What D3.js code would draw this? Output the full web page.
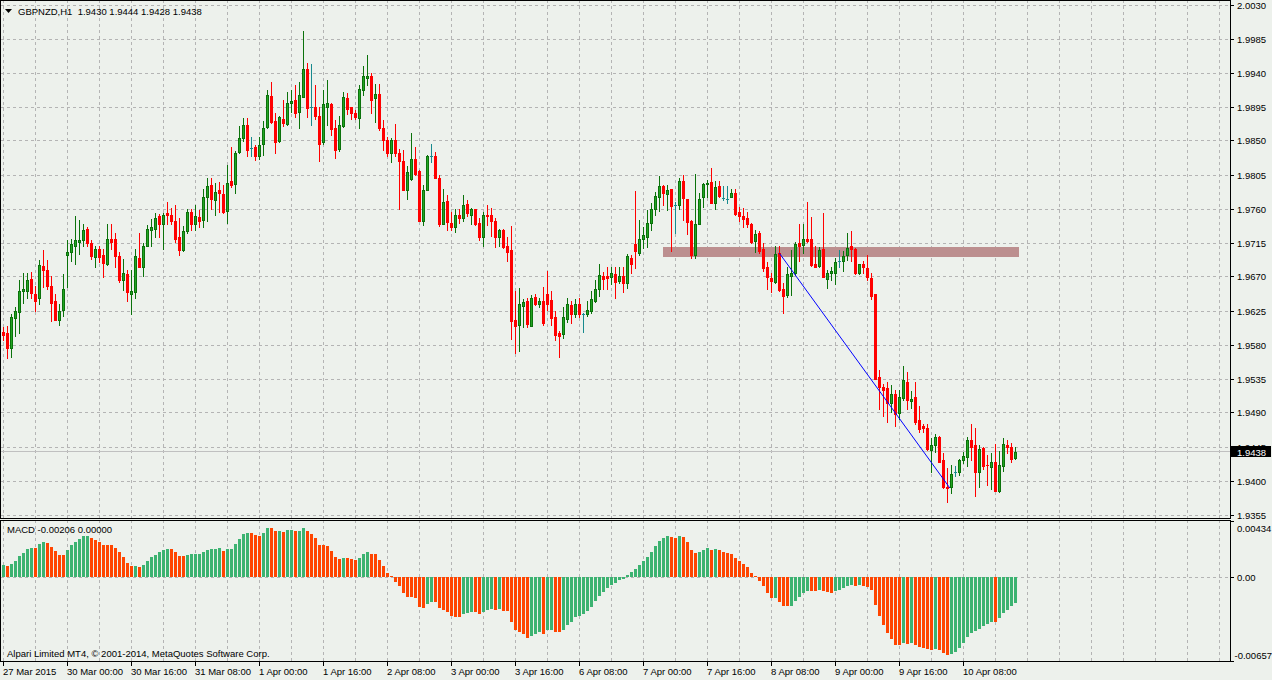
<!DOCTYPE html>
<html>
<head>
<meta charset="utf-8">
<script src="https://cdn.jsdelivr.net/npm/d3@7"></script>
<style>
  body { margin: 0; background: #edf1ec; }
  svg { display: block; font-family: "Liberation Sans", Arial, sans-serif; }
  text { white-space: pre; }
</style>
</head>
<body>
<div id="container"></div>
<script>
/* CONSTANTS AND GLOBALS */
const width = 1272, height = 680;

// GBPNZD H1 bars, 27 Mar 2015 08:00 .. 10 Apr 2015
const opens = [1.9596,1.9595,1.9575,1.9615,1.9623,1.9651,1.9651,1.9667,1.9647,1.9642,
1.9684,1.9678,1.9657,1.9637,1.9613,1.9626,1.9699,1.9703,1.9710,1.9716,
1.9718,1.9733,1.9714,1.9696,1.9707,1.9698,1.9687,1.9720,1.9719,1.9697,
1.9666,1.9673,1.9647,1.9650,1.9695,1.9682,1.9710,1.9732,1.9733,1.9750,
1.9739,1.9754,1.9752,1.9743,1.9722,1.9705,1.9730,1.9756,1.9739,1.9749,
1.9745,1.9775,1.9791,1.9771,1.9784,1.9779,1.9757,1.9797,1.9793,1.9835,
1.9853,1.9871,1.9840,1.9842,1.9830,1.9845,1.9868,1.9909,1.9876,1.9849,
1.9879,1.9872,1.9899,1.9903,1.9888,1.9908,1.9944,1.9894,1.9895,1.9882,
1.9848,1.9894,1.9898,1.9867,1.9839,1.9869,1.9906,1.9894,1.9887,1.9880,
1.9917,1.9933,1.9935,1.9906,1.9912,1.9867,1.9850,1.9834,1.9850,1.9834,
1.9823,1.9785,1.9799,1.9826,1.9809,1.9744,1.9785,1.9830,1.9829,1.9800,
1.9740,1.9770,1.9741,1.9736,1.9752,1.9748,1.9766,1.9752,1.9760,1.9741,
1.9722,1.9752,1.9752,1.9744,1.9722,1.9731,1.9711,1.9705,1.9613,1.9606,
1.9631,1.9637,1.9605,1.9643,1.9633,1.9637,1.9647,1.9639,1.9617,1.9595,
1.9594,1.9614,1.9632,1.9620,1.9633,1.9621,1.9621,1.9624,1.9638,1.9654,
1.9670,1.9670,1.9669,1.9673,1.9664,1.9670,1.9662,1.9695,1.9713,1.9701,
1.9719,1.9722,1.9741,1.9759,1.9775,1.9790,1.9779,1.9786,1.9765,1.9764,
1.9797,1.9772,1.9744,1.9698,1.9740,1.9775,1.9792,1.9795,1.9767,1.9790,
1.9774,1.9773,1.9775,1.9781,1.9755,1.9750,1.9748,1.9740,1.9717,1.9727,
1.9706,1.9682,1.9668,1.9663,1.9701,1.9654,1.9645,1.9671,1.9674,1.9714,
1.9712,1.9720,1.9719,1.9686,1.9684,1.9706,1.9667,1.9674,1.9674,1.9690,
1.9691,1.9698,1.9710,1.9707,1.9674,1.9686,1.9681,1.9668,1.9647,1.9537,
1.9524,1.9523,1.9502,1.9514,1.9489,1.9509,1.9531,1.9505,1.9510,1.9480,
1.9472,1.9469,1.9440,1.9447,1.9457,1.9427,1.9392,1.9391,1.9411,1.9411,
1.9427,1.9431,1.9453,1.9447,1.9411,1.9443,1.9421,1.9418,1.9424,1.9386,
1.9419,1.9447,1.9445,1.9430];
const highs = [1.9603,1.9604,1.9620,1.9629,1.9665,1.9674,1.9674,1.9676,1.9657,1.9692,
1.9705,1.9692,1.9670,1.9647,1.9634,1.9673,1.9718,1.9719,1.9750,1.9745,
1.9739,1.9735,1.9718,1.9711,1.9711,1.9706,1.9739,1.9739,1.9727,1.9703,
1.9693,1.9678,1.9678,1.9706,1.9728,1.9714,1.9738,1.9746,1.9754,1.9753,
1.9754,1.9769,1.9761,1.9764,1.9747,1.9737,1.9759,1.9759,1.9764,1.9758,
1.9786,1.9800,1.9801,1.9794,1.9795,1.9791,1.9817,1.9842,1.9836,1.9869,
1.9880,1.9880,1.9854,1.9844,1.9854,1.9876,1.9917,1.9928,1.9886,1.9883,
1.9903,1.9914,1.9917,1.9924,1.9928,1.9995,1.9953,1.9951,1.9924,1.9895,
1.9917,1.9930,1.9899,1.9877,1.9882,1.9914,1.9913,1.9895,1.9891,1.9923,
1.9948,1.9963,1.9940,1.9925,1.9925,1.9877,1.9855,1.9853,1.9872,1.9839,
1.9838,1.9816,1.9860,1.9842,1.9811,1.9791,1.9831,1.9846,1.9835,1.9804,
1.9786,1.9778,1.9756,1.9760,1.9759,1.9778,1.9771,1.9761,1.9760,1.9747,
1.9756,1.9764,1.9761,1.9747,1.9733,1.9733,1.9722,1.9737,1.9651,1.9655,
1.9640,1.9642,1.9645,1.9647,1.9641,1.9656,1.9677,1.9651,1.9624,1.9598,
1.9630,1.9642,1.9638,1.9640,1.9642,1.9622,1.9638,1.9651,1.9666,1.9686,
1.9676,1.9682,1.9683,1.9682,1.9683,1.9682,1.9700,1.9698,1.9783,1.9745,
1.9735,1.9758,1.9767,1.9782,1.9803,1.9791,1.9791,1.9786,1.9769,1.9800,
1.9805,1.9773,1.9745,1.9806,1.9780,1.9794,1.9798,1.9813,1.9797,1.9797,
1.9790,1.9790,1.9786,1.9786,1.9762,1.9761,1.9755,1.9741,1.9731,1.9730,
1.9714,1.9689,1.9674,1.9711,1.9710,1.9662,1.9682,1.9705,1.9716,1.9739,
1.9739,1.9768,1.9749,1.9710,1.9709,1.9754,1.9678,1.9682,1.9695,1.9705,
1.9704,1.9728,1.9730,1.9708,1.9687,1.9690,1.9698,1.9675,1.9647,1.9546,
1.9528,1.9530,1.9526,1.9520,1.9520,1.9551,1.9543,1.9518,1.9530,1.9498,
1.9475,1.9475,1.9456,1.9461,1.9459,1.9437,1.9416,1.9421,1.9419,1.9428,
1.9438,1.9458,1.9475,1.9469,1.9447,1.9445,1.9434,1.9437,1.9448,1.9439,
1.9456,1.9453,1.9449,1.9444];
const lows = [1.9586,1.9562,1.9563,1.9591,1.9595,1.9635,1.9641,1.9642,1.9624,1.9633,
1.9656,1.9654,1.9611,1.9612,1.9606,1.9618,1.9656,1.9690,1.9686,1.9700,
1.9711,1.9710,1.9693,1.9683,1.9689,1.9669,1.9685,1.9707,1.9682,1.9663,
1.9652,1.9638,1.9620,1.9642,1.9682,1.9670,1.9710,1.9710,1.9722,1.9722,
1.9706,1.9739,1.9739,1.9716,1.9698,1.9704,1.9728,1.9731,1.9731,1.9736,
1.9736,1.9744,1.9760,1.9751,1.9755,1.9754,1.9741,1.9788,1.9781,1.9833,
1.9849,1.9830,1.9830,1.9824,1.9826,1.9831,1.9867,1.9873,1.9834,1.9848,
1.9869,1.9870,1.9888,1.9881,1.9867,1.9908,1.9881,1.9870,1.9879,1.9823,
1.9845,1.9870,1.9857,1.9827,1.9836,1.9868,1.9885,1.9878,1.9878,1.9867,
1.9910,1.9923,1.9887,1.9875,1.9864,1.9838,1.9830,1.9822,1.9830,1.9759,
1.9785,1.9772,1.9798,1.9804,1.9743,1.9738,1.9785,1.9822,1.9800,1.9737,
1.9740,1.9731,1.9731,1.9729,1.9741,1.9743,1.9750,1.9739,1.9738,1.9718,
1.9710,1.9738,1.9723,1.9709,1.9710,1.9708,1.9691,1.9587,1.9569,1.9572,
1.9603,1.9603,1.9605,1.9632,1.9630,1.9606,1.9626,1.9606,1.9586,1.9563,
1.9588,1.9610,1.9609,1.9617,1.9617,1.9597,1.9618,1.9622,1.9636,1.9644,
1.9653,1.9653,1.9660,1.9642,1.9662,1.9650,1.9655,1.9674,1.9681,1.9699,
1.9708,1.9709,1.9731,1.9751,1.9757,1.9764,1.9758,1.9704,1.9728,1.9760,
1.9745,1.9726,1.9695,1.9695,1.9739,1.9762,1.9775,1.9767,1.9760,1.9775,
1.9771,1.9767,1.9775,1.9751,1.9744,1.9736,1.9736,1.9714,1.9703,1.9701,
1.9677,1.9653,1.9650,1.9662,1.9651,1.9622,1.9643,1.9645,1.9672,1.9691,
1.9701,1.9716,1.9684,1.9682,1.9683,1.9669,1.9655,1.9666,1.9660,1.9682,
1.9677,1.9692,1.9690,1.9673,1.9673,1.9674,1.9665,1.9640,1.9534,1.9494,
1.9486,1.9478,1.9490,1.9472,1.9481,1.9506,1.9495,1.9496,1.9475,1.9464,
1.9464,1.9440,1.9411,1.9438,1.9424,1.9390,1.9372,1.9383,1.9406,1.9407,
1.9423,1.9419,1.9427,1.9380,1.9391,1.9415,1.9394,1.9389,1.9386,1.9385,
1.9413,1.9437,1.9425,1.9428];
const closes = [1.9593,1.9575,1.9617,1.9625,1.9651,1.9653,1.9666,1.9648,1.9638,1.9685,
1.9678,1.9658,1.9635,1.9613,1.9625,1.9654,1.9703,1.9713,1.9718,1.9718,
1.9731,1.9714,1.9697,1.9706,1.9696,1.9688,1.9719,1.9716,1.9697,1.9666,
1.9674,1.9650,1.9651,1.9697,1.9682,1.9710,1.9733,1.9735,1.9748,1.9739,
1.9752,1.9752,1.9744,1.9719,1.9705,1.9730,1.9756,1.9739,1.9750,1.9744,
1.9775,1.9790,1.9772,1.9782,1.9781,1.9755,1.9794,1.9791,1.9834,1.9853,
1.9870,1.9838,1.9840,1.9830,1.9844,1.9867,1.9910,1.9875,1.9848,1.9881,
1.9873,1.9900,1.9902,1.9887,1.9910,1.9944,1.9893,1.9894,1.9883,1.9846,
1.9898,1.9899,1.9865,1.9838,1.9870,1.9907,1.9892,1.9886,1.9881,1.9918,
1.9936,1.9936,1.9904,1.9912,1.9867,1.9850,1.9833,1.9850,1.9834,1.9823,
1.9785,1.9808,1.9825,1.9806,1.9744,1.9785,1.9830,1.9830,1.9801,1.9740,
1.9768,1.9742,1.9736,1.9752,1.9748,1.9764,1.9754,1.9759,1.9739,1.9722,
1.9752,1.9750,1.9744,1.9722,1.9731,1.9709,1.9703,1.9611,1.9605,1.9633,
1.9636,1.9607,1.9642,1.9633,1.9637,1.9609,1.9634,1.9615,1.9592,1.9591,
1.9616,1.9633,1.9620,1.9633,1.9621,1.9621,1.9626,1.9640,1.9654,1.9672,
1.9667,1.9668,1.9674,1.9663,1.9670,1.9662,1.9697,1.9686,1.9704,1.9719,
1.9725,1.9741,1.9759,1.9776,1.9790,1.9780,1.9784,1.9763,1.9765,1.9797,
1.9774,1.9742,1.9698,1.9740,1.9773,1.9793,1.9794,1.9767,1.9788,1.9776,
1.9774,1.9773,1.9780,1.9753,1.9750,1.9746,1.9740,1.9716,1.9726,1.9704,
1.9681,1.9669,1.9664,1.9700,1.9652,1.9644,1.9673,1.9674,1.9713,1.9711,
1.9719,1.9717,1.9685,1.9683,1.9705,1.9669,1.9674,1.9677,1.9689,1.9690,
1.9697,1.9708,1.9706,1.9675,1.9686,1.9682,1.9669,1.9644,1.9535,1.9524,
1.9520,1.9502,1.9514,1.9488,1.9510,1.9533,1.9506,1.9508,1.9478,1.9468,
1.9470,1.9442,1.9447,1.9458,1.9425,1.9391,1.9390,1.9409,1.9411,1.9427,
1.9432,1.9453,1.9445,1.9411,1.9442,1.9419,1.9420,1.9424,1.9386,1.9421,
1.9448,1.9444,1.9428,1.9438];

// MACD histogram
const macd = [0.00094,0.00081,0.00099,0.00125,0.00159,0.00185,0.00216,0.00224,0.00221,0.00255,
0.00270,0.00265,0.00229,0.00198,0.00172,0.00170,0.00211,0.00244,0.00270,0.00296,
0.00317,0.00318,0.00302,0.00286,0.00270,0.00250,0.00249,0.00248,0.00224,0.00192,
0.00151,0.00107,0.00081,0.00083,0.00078,0.00094,0.00120,0.00151,0.00172,0.00190,
0.00208,0.00218,0.00217,0.00192,0.00164,0.00159,0.00172,0.00173,0.00174,0.00178,
0.00192,0.00211,0.00212,0.00218,0.00224,0.00203,0.00218,0.00219,0.00255,0.00296,
0.00333,0.00341,0.00340,0.00322,0.00321,0.00341,0.00380,0.00379,0.00354,0.00359,
0.00348,0.00361,0.00367,0.00354,0.00359,0.00380,0.00359,0.00333,0.00302,0.00250,
0.00249,0.00242,0.00203,0.00156,0.00140,0.00147,0.00146,0.00140,0.00133,0.00148,
0.00179,0.00195,0.00180,0.00179,0.00133,0.00086,0.00031,0.00008,-0.00039,-0.00070,
-0.00125,-0.00156,-0.00157,-0.00169,-0.00234,-0.00247,-0.00216,-0.00195,-0.00196,-0.00242,
-0.00257,-0.00278,-0.00304,-0.00312,-0.00313,-0.00294,-0.00286,-0.00273,-0.00278,-0.00289,
-0.00273,-0.00257,-0.00250,-0.00257,-0.00250,-0.00265,-0.00270,-0.00351,-0.00413,-0.00434,
-0.00450,-0.00476,-0.00460,-0.00450,-0.00434,-0.00445,-0.00419,-0.00418,-0.00429,-0.00430,
-0.00413,-0.00374,-0.00351,-0.00317,-0.00304,-0.00289,-0.00265,-0.00234,-0.00192,-0.00148,
-0.00117,-0.00086,-0.00062,-0.00047,-0.00029,-0.00021,0.00016,0.00039,0.00062,0.00094,
0.00125,0.00156,0.00195,0.00242,0.00281,0.00304,0.00320,0.00312,0.00304,0.00320,
0.00312,0.00273,0.00211,0.00187,0.00195,0.00211,0.00226,0.00211,0.00218,0.00211,
0.00195,0.00187,0.00180,0.00148,0.00125,0.00101,0.00078,0.00031,0.00005,-0.00031,
-0.00070,-0.00125,-0.00164,-0.00163,-0.00195,-0.00226,-0.00231,-0.00226,-0.00192,-0.00161,
-0.00130,-0.00109,-0.00110,-0.00114,-0.00101,-0.00114,-0.00122,-0.00130,-0.00114,-0.00104,
-0.00088,-0.00075,-0.00062,-0.00070,-0.00068,-0.00075,-0.00083,-0.00107,-0.00218,-0.00309,
-0.00380,-0.00442,-0.00484,-0.00530,-0.00531,-0.00520,-0.00525,-0.00520,-0.00533,-0.00551,
-0.00552,-0.00567,-0.00575,-0.00565,-0.00575,-0.00595,-0.00614,-0.00603,-0.00588,-0.00556,
-0.00517,-0.00473,-0.00437,-0.00421,-0.00406,-0.00385,-0.00369,-0.00354,-0.00356,-0.00322,
-0.00286,-0.00257,-0.00230,-0.00206];

// time axis labels (bar index, text)
const timeBars = [0,16,32,48,64,80,96,112,128,144,160,176,192,208,224,240];
const timeLabels = ["27 Mar 2015","30 Mar 00:00","30 Mar 16:00","31 Mar 08:00","1 Apr 00:00",
  "1 Apr 16:00","2 Apr 08:00","3 Apr 00:00","3 Apr 16:00","6 Apr 08:00","7 Apr 00:00",
  "7 Apr 16:00","8 Apr 08:00","9 Apr 00:00","9 Apr 16:00","10 Apr 08:00"];

const priceTicks = [2.0030,1.9985,1.9940,1.9895,1.9850,1.9805,1.9760,1.9715,1.9670,
  1.9625,1.9580,1.9535,1.9490,1.9445,1.9400,1.9355];
const macdTicks = [0.00434, 0, -0.00657];

// drawn objects: resistance zone and trend line
const zoneBars = [164.8, 253.9];
const zonePrices = [1.9709, 1.9696];
const trendBars = [193.95, 236.6];
const trendPrices = [1.9701, 1.9390];

const lastPrice = 1.9438;
const header = "GBPNZD,H1  1.9430 1.9444 1.9428 1.9438";
const macdHeader = "MACD -0.00206 0.00000";
const copyright = "Alpari Limited MT4, \u00a9 2001-2014, MetaQuotes Software Corp.";

/* COLORS */
const bg = "#edf1ec",
  gridCol = "#b4b4b4",
  bullLine = "#0b720b", bullFill = "#22a522",
  bearLine = "#ff0000", bearFill = "#ff0000",
  dojiCol = "#178a8e",
  macdUp = "#3cb371", macdDown = "#ff4500";

/* SCALES */
const plotRight = 1230;
const fs = 9.5;
const xScale = d3.scaleLinear().domain([0, 1]).range([3.5, 7.5]);
const yScale = d3.scaleLinear().domain([1.9355, 2.0030]).range([514.5, 4.5]);
const mScale = d3.scaleLinear().domain([-0.00657, 0.00434]).range([661, 521]);

const px = v => Math.round(v);

/* HTML ELEMENTS */
const svg = d3.select("#container")
  .append("svg")
  .attr("width", width)
  .attr("height", height)
  .attr("shape-rendering", "crispEdges");

svg.append("rect").attr("width", width).attr("height", height).attr("fill", bg);

const defs = svg.append("defs");
defs.append("clipPath").attr("id", "mainClip")
  .append("rect").attr("x", 1).attr("y", 1).attr("width", plotRight - 1).attr("height", 517);
defs.append("clipPath").attr("id", "macdClip")
  .append("rect").attr("x", 1).attr("y", 521).attr("width", plotRight - 1).attr("height", 140);

const gridBars = d3.range(0, 307, 8);

// main panel
const main = svg.append("g").attr("clip-path", "url(#mainClip)");

main.selectAll("line.vgrid")
  .data(gridBars)
  .join("line")
  .attr("class", "vgrid")
  .attr("x1", d => xScale(d)).attr("x2", d => xScale(d))
  .attr("y1", 0).attr("y2", 518)
  .attr("stroke", gridCol).attr("stroke-dasharray", "3,3");

main.selectAll("line.hgrid")
  .data(priceTicks)
  .join("line")
  .attr("class", "hgrid")
  .attr("x1", 1).attr("x2", plotRight)
  .attr("y1", d => px(yScale(d)) + 0.5).attr("y2", d => px(yScale(d)) + 0.5)
  .attr("stroke", gridCol).attr("stroke-dasharray", "3,3");

// current bid line
main.append("line")
  .attr("x1", 1).attr("x2", plotRight)
  .attr("y1", px(yScale(lastPrice)) - 0.5).attr("y2", px(yScale(lastPrice)) - 0.5)
  .attr("stroke", "#c0c0c0");

// zone rectangle
main.append("rect")
  .attr("x", xScale(zoneBars[0]))
  .attr("y", yScale(zonePrices[0]))
  .attr("width", xScale(zoneBars[1]) - xScale(zoneBars[0]))
  .attr("height", yScale(zonePrices[1]) - yScale(zonePrices[0]))
  .attr("fill", "#bc8f8f");

// candles
const bars = d3.range(opens.length).map(i => ({
  i, o: opens[i], h: highs[i], l: lows[i], c: closes[i]
}));
const kind = d => d.c > d.o ? "bull" : (d.c < d.o ? "bear" : "doji");
const lineCol = d => ({ bull: bullLine, bear: bearLine, doji: dojiCol })[kind(d)];
const fillCol = d => ({ bull: bullFill, bear: bearFill, doji: dojiCol })[kind(d)];

const candle = main.selectAll("g.candle")
  .data(bars)
  .join("g")
  .attr("class", "candle");

candle.append("rect")
  .attr("x", d => xScale(d.i) - 0.5)
  .attr("y", d => px(yScale(d.h)))
  .attr("width", 1)
  .attr("height", d => px(yScale(d.l)) - px(yScale(d.h)) + 1)
  .attr("fill", lineCol);

candle.append("rect")
  .attr("x", d => xScale(d.i) - 1.5)
  .attr("y", d => px(yScale(Math.max(d.o, d.c))))
  .attr("width", 3)
  .attr("height", d => px(yScale(Math.min(d.o, d.c))) - px(yScale(Math.max(d.o, d.c))) + 1)
  .attr("fill", lineCol);

candle.filter(d => px(yScale(Math.min(d.o, d.c))) - px(yScale(Math.max(d.o, d.c))) > 1)
  .append("rect")
  .attr("x", d => xScale(d.i) - 0.5)
  .attr("y", d => px(yScale(Math.max(d.o, d.c))) + 1)
  .attr("width", 1)
  .attr("height", d => px(yScale(Math.min(d.o, d.c))) - px(yScale(Math.max(d.o, d.c))) - 1)
  .attr("fill", fillCol);

// trend line
main.append("line")
  .attr("x1", xScale(trendBars[0])).attr("y1", yScale(trendPrices[0]))
  .attr("x2", xScale(trendBars[1])).attr("y2", yScale(trendPrices[1]))
  .attr("stroke", "#0000ff").attr("stroke-width", 1)
  .attr("shape-rendering", "auto");

// main frame
svg.append("rect").attr("x", 0.5).attr("y", 0.5).attr("width", plotRight).attr("height", 518)
  .attr("fill", "none").attr("stroke", "#000");

// header
svg.append("path")
  .attr("d", d3.line()([[5, 9], [12, 9], [8.5, 13]]) + "Z")
  .attr("fill", "#000").attr("shape-rendering", "auto");
svg.append("text").attr("x", 18).attr("y", 15).attr("font-size", fs).text(header);

// price axis
const yAxis = svg.append("g");
yAxis.selectAll("line")
  .data(priceTicks)
  .join("line")
  .attr("x1", plotRight).attr("x2", plotRight + 4)
  .attr("y1", d => px(yScale(d)) + 0.5).attr("y2", d => px(yScale(d)) + 0.5)
  .attr("stroke", "#000");
yAxis.selectAll("text")
  .data(priceTicks)
  .join("text")
  .attr("x", 1237)
  .attr("y", d => Math.max(px(yScale(d)) + 4, 8))
  .attr("font-size", fs)
  .text(d => d.toFixed(4));

// bid label
const bidY = px(yScale(lastPrice));
svg.append("rect").attr("x", 1231).attr("y", bidY - 6).attr("width", 40).attr("height", 11)
  .attr("fill", "#000");
svg.append("text").attr("x", 1237).attr("y", bidY + 3.5)
  .attr("font-size", fs).attr("fill", "#fff").text(lastPrice.toFixed(4));

// MACD panel
const sub = svg.append("g").attr("clip-path", "url(#macdClip)");

sub.selectAll("line.vgrid")
  .data(gridBars)
  .join("line")
  .attr("class", "vgrid")
  .attr("x1", d => xScale(d)).attr("x2", d => xScale(d))
  .attr("y1", 520).attr("y2", 662)
  .attr("stroke", gridCol).attr("stroke-dasharray", "3,3");

const zeroY = px(mScale(0));
sub.append("line")
  .attr("x1", 1).attr("x2", plotRight)
  .attr("y1", zeroY + 0.5).attr("y2", zeroY + 0.5)
  .attr("stroke", gridCol).attr("stroke-dasharray", "3,3");

sub.selectAll("rect.hist")
  .data(macd)
  .join("rect")
  .attr("class", "hist")
  .attr("x", (d, i) => xScale(i) - 1.5)
  .attr("y", d => d >= 0 ? px(mScale(d)) : zeroY)
  .attr("width", 3)
  .attr("height", d => Math.max(1, Math.abs(px(mScale(d)) - zeroY)))
  .attr("fill", (d, i) => (i === 0 || d >= macd[i - 1]) ? macdUp : macdDown);

svg.append("rect").attr("x", 0.5).attr("y", 520.5).attr("width", plotRight).attr("height", 141)
  .attr("fill", "none").attr("stroke", "#000");

svg.append("text").attr("x", 7).attr("y", 533).attr("font-size", fs).text(macdHeader);
svg.append("text").attr("x", 7).attr("y", 657).attr("font-size", fs).text(copyright);

const mAxis = svg.append("g");
mAxis.selectAll("line")
  .data(macdTicks)
  .join("line")
  .attr("x1", plotRight).attr("x2", plotRight + 4)
  .attr("y1", d => px(mScale(d)) + 0.5).attr("y2", d => px(mScale(d)) + 0.5)
  .attr("stroke", "#000");
mAxis.selectAll("text")
  .data(macdTicks)
  .join("text")
  .attr("x", d => d < 0 ? 1234.5 : 1237)
  .attr("y", d => Math.min(Math.max(px(mScale(d)) + 4, 532), 659))
  .attr("font-size", fs)
  .text(d => d === 0 ? "0.00" : d.toFixed(5));

// time axis
const tAxis = svg.append("g");
tAxis.selectAll("line")
  .data(timeBars)
  .join("line")
  .attr("x1", d => xScale(d)).attr("x2", d => xScale(d))
  .attr("y1", 662).attr("y2", 666)
  .attr("stroke", "#000");
tAxis.selectAll("text")
  .data(timeBars)
  .join("text")
  .attr("x", d => xScale(d) - 0.5)
  .attr("y", 675)
  .attr("font-size", fs)
  .text((d, i) => timeLabels[i]);
</script>
</body>
</html>
